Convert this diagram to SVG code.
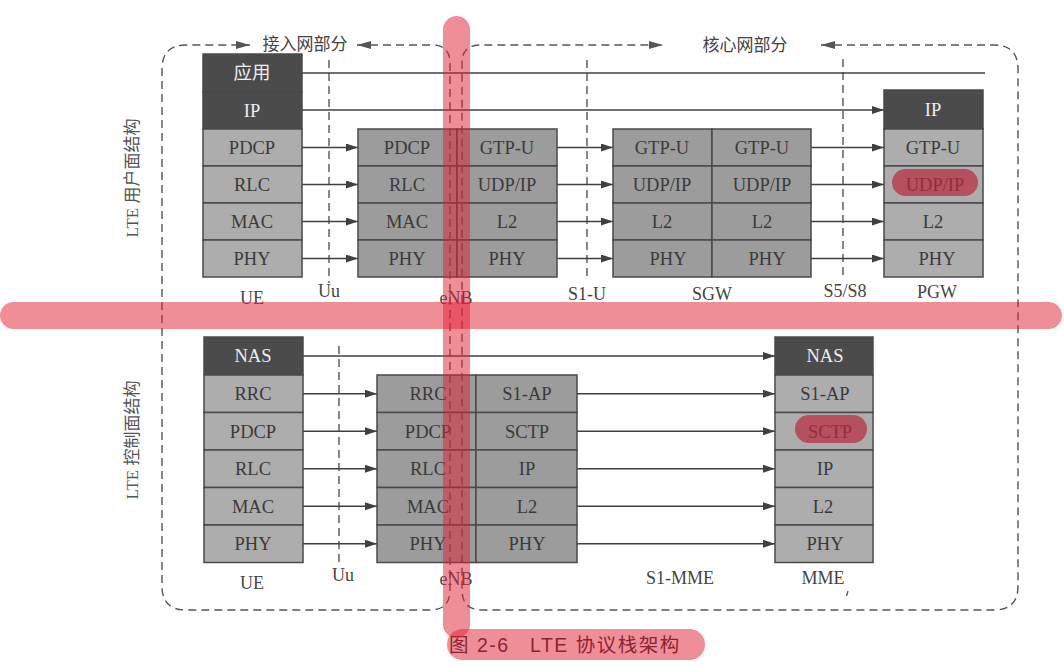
<svg xmlns="http://www.w3.org/2000/svg" width="1064" height="667" viewBox="0 0 1064 667">
<style>
.bx{stroke:#4a4a4a;stroke-width:1.5}
.dk{fill:#4b4b4b}
.lt{fill:#adadad}
.md{fill:#9c9c9c}
.t{font-family:"Liberation Serif","Noto Sans CJK SC",serif;font-size:18.5px;text-anchor:middle;fill:#3a3a3a}
.tw{font-family:"Liberation Serif","Noto Sans CJK SC",serif;font-size:18.5px;text-anchor:middle;fill:#eeeeee}
.lb{font-family:"Liberation Serif","Noto Sans CJK SC",serif;font-size:18px;text-anchor:middle;fill:#444}
.cn{font-family:"Noto Sans CJK SC","Liberation Sans",sans-serif;font-size:17px;text-anchor:middle;fill:#444}
.vl{font-family:"Liberation Serif","Noto Sans CJK SC",serif;font-size:17px;text-anchor:middle;fill:#555}
.ar{stroke:#404040;stroke-width:1.5;fill:none}
.ds{stroke:#555;stroke-width:1.4;stroke-dasharray:8 5;fill:none}
.hl{fill:#e11e32;opacity:0.5}
.ov{fill:#b8283c;opacity:0.7}
</style>
<defs>
<marker id="ah" markerUnits="userSpaceOnUse" markerWidth="12" markerHeight="8" refX="12" refY="4" orient="auto">
<path d="M0,0 L12,4 L0,8 z" fill="#404040"/>
</marker>
<marker id="dh" markerUnits="userSpaceOnUse" markerWidth="14" markerHeight="8" refX="14" refY="4" orient="auto-start-reverse">
<path d="M0,0 L14,4 L0,8 z" fill="#555"/>
</marker>
</defs>
<rect width="1064" height="667" fill="#ffffff"/>

<!-- section labels -->
<text class="cn" x="305" y="50">接入网部分</text>
<text class="cn" x="745" y="51">核心网部分</text>
<text class="vl" transform="translate(138,178) rotate(-90)">LTE 用户面结构</text>
<text class="vl" transform="translate(138,440) rotate(-90)">LTE 控制面结构</text>

<!-- interface dashed lines -->
<g id="interfaces">
<line class="ds" x1="329" y1="60" x2="329" y2="283"/>
<line class="ds" x1="587" y1="60" x2="587" y2="280"/>
<line class="ds" x1="843" y1="59" x2="843" y2="280"/>
<line class="ds" x1="339" y1="346" x2="339" y2="565"/>
</g>

<!-- connectors -->
<g id="connectors">
<line class="ar" x1="302" y1="73" x2="985" y2="73"/>
<line class="ar" x1="302" y1="110" x2="884" y2="110" marker-end="url(#ah)"/>
<line class="ar" x1="302" y1="147.5" x2="358" y2="147.5" marker-end="url(#ah)"/>
<line class="ar" x1="302" y1="184.5" x2="358" y2="184.5" marker-end="url(#ah)"/>
<line class="ar" x1="302" y1="221.5" x2="358" y2="221.5" marker-end="url(#ah)"/>
<line class="ar" x1="302" y1="258.5" x2="358" y2="258.5" marker-end="url(#ah)"/>
<line class="ar" x1="557" y1="147.5" x2="613" y2="147.5" marker-end="url(#ah)"/>
<line class="ar" x1="557" y1="184.5" x2="613" y2="184.5" marker-end="url(#ah)"/>
<line class="ar" x1="557" y1="221.5" x2="613" y2="221.5" marker-end="url(#ah)"/>
<line class="ar" x1="557" y1="258.5" x2="613" y2="258.5" marker-end="url(#ah)"/>
<line class="ar" x1="811" y1="147.5" x2="884" y2="147.5" marker-end="url(#ah)"/>
<line class="ar" x1="811" y1="184.5" x2="884" y2="184.5" marker-end="url(#ah)"/>
<line class="ar" x1="811" y1="221.5" x2="884" y2="221.5" marker-end="url(#ah)"/>
<line class="ar" x1="811" y1="258.5" x2="884" y2="258.5" marker-end="url(#ah)"/>
<line class="ar" x1="303" y1="356" x2="775" y2="356" marker-end="url(#ah)"/>
<line class="ar" x1="303" y1="393.75" x2="377" y2="393.75" marker-end="url(#ah)"/>
<line class="ar" x1="303" y1="431.25" x2="377" y2="431.25" marker-end="url(#ah)"/>
<line class="ar" x1="303" y1="468.75" x2="377" y2="468.75" marker-end="url(#ah)"/>
<line class="ar" x1="303" y1="506.25" x2="377" y2="506.25" marker-end="url(#ah)"/>
<line class="ar" x1="303" y1="543.75" x2="377" y2="543.75" marker-end="url(#ah)"/>
<line class="ar" x1="577" y1="393.75" x2="775" y2="393.75" marker-end="url(#ah)"/>
<line class="ar" x1="577" y1="431.25" x2="775" y2="431.25" marker-end="url(#ah)"/>
<line class="ar" x1="577" y1="468.75" x2="775" y2="468.75" marker-end="url(#ah)"/>
<line class="ar" x1="577" y1="506.25" x2="775" y2="506.25" marker-end="url(#ah)"/>
<line class="ar" x1="577" y1="543.75" x2="775" y2="543.75" marker-end="url(#ah)"/>
</g>

<!-- user plane nodes -->
<g id="ue-user">
<rect class="bx dk" x="203" y="54" width="99" height="38"/>
<rect class="bx dk" x="203" y="92" width="99" height="37"/>
<rect class="bx lt" x="203" y="129" width="99" height="37"/>
<rect class="bx lt" x="203" y="166" width="99" height="37"/>
<rect class="bx lt" x="203" y="203" width="99" height="37"/>
<rect class="bx lt" x="203" y="240" width="99" height="37"/>
<text class="tw" x="252" y="79">应用</text>
<text class="tw" x="252" y="117">IP</text>
<text class="t" x="252" y="154">PDCP</text>
<text class="t" x="252" y="191">RLC</text>
<text class="t" x="252" y="228">MAC</text>
<text class="t" x="252" y="265">PHY</text>
<text class="lb" x="252" y="304">UE</text>
</g>
<g id="enb-user">
<rect class="bx md" x="358" y="129" width="99" height="37"/>
<rect class="bx md" x="358" y="166" width="99" height="37"/>
<rect class="bx md" x="358" y="203" width="99" height="37"/>
<rect class="bx md" x="358" y="240" width="99" height="37"/>
<rect class="bx md" x="457" y="129" width="100" height="37"/>
<rect class="bx md" x="457" y="166" width="100" height="37"/>
<rect class="bx md" x="457" y="203" width="100" height="37"/>
<rect class="bx md" x="457" y="240" width="100" height="37"/>
<text class="t" x="407" y="154">PDCP</text>
<text class="t" x="407" y="191">RLC</text>
<text class="t" x="407" y="228">MAC</text>
<text class="t" x="407" y="265">PHY</text>
<text class="t" x="507" y="154">GTP-U</text>
<text class="t" x="507" y="191">UDP/IP</text>
<text class="t" x="507" y="228">L2</text>
<text class="t" x="507" y="265">PHY</text>
<text class="lb" x="456" y="304">eNB</text>
</g>
<g id="sgw">
<rect class="bx md" x="613" y="129" width="99" height="37"/>
<rect class="bx md" x="613" y="166" width="99" height="37"/>
<rect class="bx md" x="613" y="203" width="99" height="37"/>
<rect class="bx md" x="613" y="240" width="99" height="37"/>
<rect class="bx md" x="712" y="129" width="99" height="37"/>
<rect class="bx md" x="712" y="166" width="99" height="37"/>
<rect class="bx md" x="712" y="203" width="99" height="37"/>
<rect class="bx md" x="712" y="240" width="99" height="37"/>
<text class="t" x="662" y="154">GTP-U</text>
<text class="t" x="662" y="191">UDP/IP</text>
<text class="t" x="662" y="228">L2</text>
<text class="t" x="668" y="265">PHY</text>
<text class="t" x="762" y="154">GTP-U</text>
<text class="t" x="762" y="191">UDP/IP</text>
<text class="t" x="762" y="228">L2</text>
<text class="t" x="767" y="265">PHY</text>
<text class="lb" x="712" y="300">SGW</text>
<text class="lb" x="587" y="300">S1-U</text>
<text class="lb" x="329" y="297">Uu</text>
<text class="lb" x="845" y="297">S5/S8</text>
</g>
<g id="pgw">
<rect class="bx dk" x="884" y="90" width="99" height="39"/>
<rect class="bx lt" x="884" y="129" width="99" height="37"/>
<rect class="bx lt" x="884" y="166" width="99" height="37"/>
<rect class="bx lt" x="884" y="203" width="99" height="37"/>
<rect class="bx lt" x="884" y="240" width="99" height="37"/>
<text class="tw" x="933" y="116">IP</text>
<text class="t" x="933" y="154">GTP-U</text>
<text class="t" x="935" y="191">UDP/IP</text>
<text class="t" x="933" y="228">L2</text>
<text class="t" x="937" y="265">PHY</text>
<text class="lb" x="937" y="298">PGW</text>
</g>

<!-- control plane nodes -->
<g id="ue-ctrl">
<rect class="bx dk" x="204" y="337" width="99" height="38"/>
<rect class="bx lt" x="204" y="375" width="99" height="37.5"/>
<rect class="bx lt" x="204" y="412.5" width="99" height="37.5"/>
<rect class="bx lt" x="204" y="450" width="99" height="37.5"/>
<rect class="bx lt" x="204" y="487.5" width="99" height="37.5"/>
<rect class="bx lt" x="204" y="525" width="99" height="37.5"/>
<text class="tw" x="253" y="362">NAS</text>
<text class="t" x="253" y="400">RRC</text>
<text class="t" x="253" y="437.5">PDCP</text>
<text class="t" x="253" y="475">RLC</text>
<text class="t" x="253" y="512.5">MAC</text>
<text class="t" x="253" y="550">PHY</text>
<text class="lb" x="252" y="589">UE</text>
<text class="lb" x="343" y="581">Uu</text>
</g>
<g id="enb-ctrl">
<rect class="bx md" x="377" y="375" width="99" height="37.5"/>
<rect class="bx md" x="377" y="412.5" width="99" height="37.5"/>
<rect class="bx md" x="377" y="450" width="99" height="37.5"/>
<rect class="bx md" x="377" y="487.5" width="99" height="37.5"/>
<rect class="bx md" x="377" y="525" width="99" height="37.5"/>
<rect class="bx md" x="476" y="375" width="101" height="37.5"/>
<rect class="bx md" x="476" y="412.5" width="101" height="37.5"/>
<rect class="bx md" x="476" y="450" width="101" height="37.5"/>
<rect class="bx md" x="476" y="487.5" width="101" height="37.5"/>
<rect class="bx md" x="476" y="525" width="101" height="37.5"/>
<text class="t" x="428" y="400">RRC</text>
<text class="t" x="428" y="437.5">PDCP</text>
<text class="t" x="428" y="475">RLC</text>
<text class="t" x="428" y="512.5">MAC</text>
<text class="t" x="428" y="550">PHY</text>
<text class="t" x="527" y="400">S1-AP</text>
<text class="t" x="527" y="437.5">SCTP</text>
<text class="t" x="527" y="475">IP</text>
<text class="t" x="527" y="512.5">L2</text>
<text class="t" x="527" y="550">PHY</text>
<text class="lb" x="456" y="585">eNB</text>
<text class="lb" x="680" y="584">S1-MME</text>
</g>
<g id="mme">
<rect class="bx dk" x="775" y="337" width="98" height="38"/>
<rect class="bx lt" x="775" y="375" width="98" height="37.5"/>
<rect class="bx lt" x="775" y="412.5" width="98" height="37.5"/>
<rect class="bx lt" x="775" y="450" width="98" height="37.5"/>
<rect class="bx lt" x="775" y="487.5" width="98" height="37.5"/>
<rect class="bx lt" x="775" y="525" width="98" height="37.5"/>
<text class="tw" x="825" y="362">NAS</text>
<text class="t" x="825" y="400">S1-AP</text>
<text class="t" x="830" y="437.5">SCTP</text>
<text class="t" x="825" y="475">IP</text>
<text class="t" x="823" y="512.5">L2</text>
<text class="t" x="825" y="550">PHY</text>
<text class="lb" x="823" y="584">MME</text>
<line x1="846.5" y1="596" x2="848" y2="591" stroke="#555" stroke-width="1.3"/>
</g>

<!-- region outlines -->
<g id="regions">
<path class="ds" d="M357,45 H432 Q450,45 450,63 V590 Q450,610 430,610 H186 Q162,610 162,586 V69 Q162,45 186,45 H250" marker-start="url(#dh)" marker-end="url(#dh)"/>
<path class="ds" d="M821,45 H994 Q1018,45 1018,69 V586 Q1018,610 994,610 H482 Q462,610 462,590 V63 Q462,45 480,45 H663" marker-start="url(#dh)" marker-end="url(#dh)"/>
</g>

<!-- caption -->
<text font-family="'Liberation Sans','Noto Sans CJK SC',sans-serif" font-size="19.5" fill="#35292e" letter-spacing="1.5" y="652"><tspan x="449">图 2-6</tspan><tspan x="530">LTE 协议栈架构</tspan></text>

<!-- highlight overlays -->
<g id="highlights">
<rect class="hl" x="0" y="302" width="1062" height="27" rx="13.5"/>
<rect class="hl" x="443" y="16" width="27" height="622" rx="13.5"/>
<rect class="hl" x="447" y="629" width="258" height="31" rx="15.5"/>
<rect class="ov" x="892" y="169" width="86" height="27" rx="13.5"/>
<rect class="ov" x="795" y="415" width="72" height="28" rx="14"/>
</g>
</svg>
